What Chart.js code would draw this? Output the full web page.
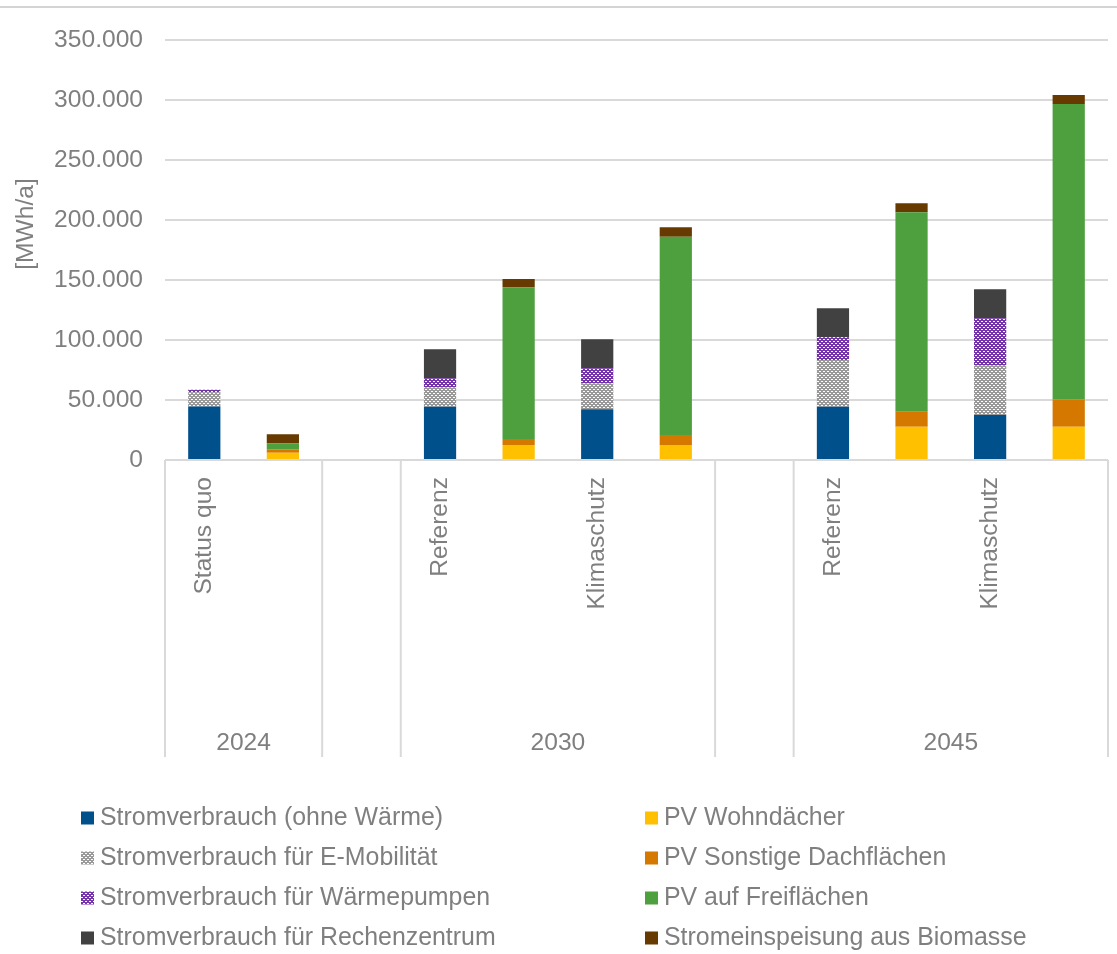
<!DOCTYPE html>
<html>
<head>
<meta charset="utf-8">
<script src="https://cdn.jsdelivr.net/npm/chart.js"></script>
<style>
  body { margin: 0; background: #fff; }
  #wrap { width: 1117px; height: 954px; }
</style>
</head>
<body>
<div id="wrap"><canvas id="chart"></canvas></div>
<script>
// Category slots on the x axis (empty strings = generation bars and gaps)
const categories = ['Status quo', '', '', 'Referenz', '', 'Klimaschutz', '', '', 'Referenz', '', 'Klimaschutz', ''];
const yearLabels = ['2024', '2030', '2045'];
const yearStart = [0, 3, 8];
const yearEnd = [1, 6, 11];

// Which slot holds the consumption bar and which the generation bar
const verbrauchCols = [0, 3, 5, 8, 10];
const erzeugungCols = [1, 4, 6, 9, 11];

// Consumption [MWh/a]: Status quo, 2030 Ref, 2030 KS, 2045 Ref, 2045 KS
const stromOhneWaerme = [44500, 44400, 42200, 44400, 37500];
const stromEMobilitaet = [12000, 16200, 21700, 38900, 41700];
const stromWaermepumpen = [2000, 7500, 12500, 18900, 38900];
const stromRechenzentrum = [0, 24200, 24200, 24200, 24200];

// Generation [MWh/a]
const pvWohndaecher = [6100, 12500, 12500, 27800, 27800];
const pvSonstige = [2800, 5000, 8300, 12500, 22800];
const pvFreiflaechen = [5000, 126400, 165300, 166100, 246100];
const biomasse = [7500, 6900, 7800, 7500, 7500];

const yTicks = [0, 50000, 100000, 150000, 200000, 250000, 300000, 350000];

const textGrey = '#7F7F7F';
const fontFamily = "'Liberation Sans', Arial, sans-serif";

function spread(cols, vals) {
  const arr = categories.map(() => null);
  cols.forEach((c, i) => { arr[c] = vals[i]; });
  return arr;
}

// Excel-like dotted grid fill
function dotted(fg) {
  const c = document.createElement('canvas');
  c.width = 4; c.height = 4;
  const g = c.getContext('2d');
  g.fillStyle = fg;
  g.fillRect(0, 0, 4, 4);
  g.fillStyle = '#ffffff';
  g.fillRect(1, 1, 2, 1);
  g.fillRect(0, 3, 1, 1);
  g.fillRect(3, 3, 1, 1);
  return g.createPattern(c, 'repeat');
}

function fmt(v) {
  return String(v).replace(/\B(?=(\d{3})+(?!\d))/g, '.');
}

const datasets = [
  { label: 'Stromverbrauch (ohne Wärme)', data: spread(verbrauchCols, stromOhneWaerme), backgroundColor: '#00508C' },
  { label: 'Stromverbrauch für E-Mobilität', data: spread(verbrauchCols, stromEMobilitaet), backgroundColor: dotted('#999999') },
  { label: 'Stromverbrauch für Wärmepumpen', data: spread(verbrauchCols, stromWaermepumpen), backgroundColor: dotted('#7434A8') },
  { label: 'Stromverbrauch für Rechenzentrum', data: spread(verbrauchCols, stromRechenzentrum), backgroundColor: '#414141' },
  { label: 'PV Wohndächer', data: spread(erzeugungCols, pvWohndaecher), backgroundColor: '#FFC000' },
  { label: 'PV Sonstige Dachflächen', data: spread(erzeugungCols, pvSonstige), backgroundColor: '#D47800' },
  { label: 'PV auf Freiflächen', data: spread(erzeugungCols, pvFreiflaechen), backgroundColor: '#4E9F3D' },
  { label: 'Stromeinspeisung aus Biomasse', data: spread(erzeugungCols, biomasse), backgroundColor: '#663A00' }
];

// Draws the year level of the category axis, the y title and the legend
const extras = {
  id: 'extras',
  beforeDraw(chart) {
    const ctx = chart.ctx;
    ctx.save();
    ctx.fillStyle = '#fff';
    ctx.fillRect(0, 0, chart.width, chart.height);
    ctx.strokeStyle = '#D4D4D4';
    ctx.lineWidth = 2;
    ctx.beginPath();
    ctx.moveTo(0, 7);
    ctx.lineTo(chart.width, 7);
    ctx.stroke();
    ctx.restore();
  },
  afterDraw(chart) {
    const ctx = chart.ctx;
    const x = chart.scales.x;
    const top = chart.chartArea.bottom;
    const bottom = x.bottom;
    const half = (x.getPixelForValue(1) - x.getPixelForValue(0)) / 2;
    ctx.save();
    ctx.strokeStyle = '#D9D9D9';
    ctx.lineWidth = 2;
    ctx.font = '24.6px ' + fontFamily;
    ctx.fillStyle = textGrey;
    ctx.textAlign = 'center';
    ctx.textBaseline = 'middle';
    yearLabels.forEach((lab, i) => {
      const l = x.getPixelForValue(yearStart[i]) - half;
      const r = x.getPixelForValue(yearEnd[i]) + half;
      [l, r].forEach(px => {
        ctx.beginPath();
        ctx.moveTo(px, top);
        ctx.lineTo(px, bottom);
        ctx.stroke();
      });
      ctx.fillText(lab, (l + r) / 2, 743);
    });

    // y axis title
    ctx.save();
    ctx.translate(26, 224);
    ctx.rotate(-Math.PI / 2);
    ctx.fillText('[MWh/a]', 0, 0);
    ctx.restore();

    // legend: consumption left column, generation right column
    ctx.font = '24.9px ' + fontFamily;
    ctx.textAlign = 'left';
    chart.data.datasets.forEach((ds, i) => {
      const col = i < 4 ? 0 : 1;
      const row = i % 4;
      const bx = col === 0 ? 81 : 645;
      const cy = 818 + row * 40;
      ctx.fillStyle = ds.backgroundColor;
      ctx.fillRect(bx, cy - 6.5, 13, 13);
      ctx.fillStyle = textGrey;
      ctx.fillText(ds.label, bx + 19, cy);
    });
    ctx.restore();
  }
};

Chart.defaults.font.family = fontFamily;
Chart.defaults.font.size = 24.6;
Chart.defaults.color = textGrey;

new Chart(document.getElementById('chart'), {
  type: 'bar',
  data: { labels: categories, datasets: datasets },
  options: {
    responsive: true,
    maintainAspectRatio: false,
    animation: false,
    layout: { padding: { top: 40, right: 9, bottom: 197, left: 0 } },
    datasets: { bar: { categoryPercentage: 1, barPercentage: 0.41 } },
    plugins: {
      legend: { display: false },
      tooltip: { enabled: false }
    },
    scales: {
      x: {
        stacked: true,
        grid: { display: false },
        border: { display: false },
        ticks: {
          autoSkip: false,
          minRotation: 90,
          maxRotation: 90,
          padding: 9,
          color: textGrey,
          font: { size: 24.6 }
        },
        afterFit(scale) { scale.height = 297; }
      },
      y: {
        stacked: true,
        min: 0,
        max: 350000,
        afterBuildTicks(scale) { scale.ticks = yTicks.map(v => ({ value: v })); },
        grid: { color: '#D9D9D9', lineWidth: 2, drawTicks: false },
        border: { display: false },
        ticks: {
          padding: 22,
          color: textGrey,
          font: { size: 24.6 },
          callback: v => fmt(v)
        },
        afterFit(scale) { scale.width = 165; }
      }
    }
  },
  plugins: [extras]
});
</script>
</body>
</html>
